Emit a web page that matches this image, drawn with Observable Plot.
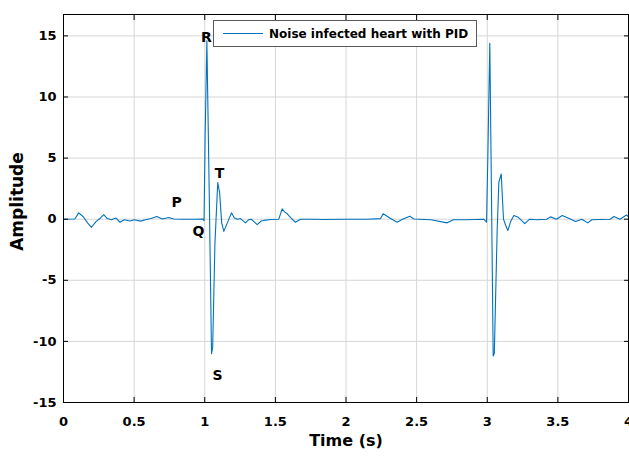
<!DOCTYPE html>
<html>
<head>
<meta charset="utf-8">
<script src="https://cdn.jsdelivr.net/npm/d3@7"></script>
<script src="https://cdn.jsdelivr.net/npm/@observablehq/plot@0.6"></script>
<style>
  body { margin: 0; background: #fff; }
  #wrap { position: relative; width: 629px; height: 457px; font-family: "DejaVu Sans", sans-serif; }
  #legend { position: absolute; left: 213px; top: 20px; width: 264px; height: 27px; box-sizing: border-box;
    border: 1px solid #5a5a5a; background: #fff; display: flex; align-items: center; }
  #legend .swatch { width: 40px; height: 0; border-top: 1px solid #0072BD; margin-left: 9px; margin-right: 6px; }
  #legend .txt { font-weight: bold; font-size: 12px; color: #000; white-space: nowrap; }
</style>
</head>
<body>
<div id="wrap"></div>
<script>
// Signal samples
const time = [0, 0.08, 0.108, 0.14, 0.17, 0.198, 0.23, 0.262, 0.285, 0.31, 0.34, 0.37, 0.40, 0.43, 0.47, 0.50, 0.545, 0.58, 0.62, 0.66, 0.70, 0.746, 0.78, 0.85, 0.93, 0.985, 0.995,
  1.003, 1.015, 1.032, 1.048, 1.056, 1.072, 1.092, 1.105, 1.12, 1.135, 1.16, 1.189, 1.21, 1.23, 1.253, 1.288, 1.31, 1.329, 1.371, 1.40, 1.418, 1.47, 1.524, 1.548, 1.565, 1.584, 1.61, 1.642, 1.678,
  1.75, 1.85, 2.0, 2.15, 2.245, 2.263, 2.31, 2.362, 2.40, 2.452, 2.48, 2.60, 2.716, 2.76, 2.85, 2.976, 2.995,
  3.004, 3.018, 3.03, 3.042, 3.05, 3.07, 3.082, 3.099, 3.115, 3.13, 3.146, 3.165, 3.188, 3.22, 3.266, 3.30, 3.35, 3.42, 3.448, 3.49, 3.531, 3.58, 3.625, 3.67, 3.712, 3.74, 3.80, 3.87, 3.896, 3.94, 3.986, 4.0];
const amplitude = [0, 0.02, 0.52, 0.2, -0.3, -0.66, -0.2, 0.1, 0.38, 0.05, -0.05, 0.1, -0.25, -0.05, -0.15, -0.05, -0.16, -0.05, 0.05, 0.22, 0.02, 0.14, 0.02, 0.0, 0.0, 0.02, -0.12,
  7.0, 14.6, 2.0, -11.0, -10.5, -2.0, 3.0, 2.2, -0.3, -1.0, -0.3, 0.52, 0.1, 0.0, 0.05, -0.3, -0.05, 0.0, -0.44, -0.15, -0.1, -0.02, 0.0, 0.85, 0.6, 0.44, 0.1, -0.25, 0.0,
  0.0, -0.02, 0.0, 0.0, 0.05, 0.44, 0.1, -0.25, 0.0, 0.25, 0.02, -0.05, -0.3, -0.05, -0.05, 0.0, -0.25,
  5.0, 14.4, 2.0, -11.2, -11.0, -1.0, 3.03, 3.7, 0.0, -0.5, -0.93, -0.2, 0.3, 0.15, -0.36, 0.0, -0.05, 0.0, 0.19, 0.0, 0.3, 0.05, -0.19, 0.0, -0.3, -0.05, -0.02, 0.0, 0.22, 0.0, 0.35, 0.2];

const xTicks = [0, 0.5, 1, 1.5, 2, 2.5, 3, 3.5, 4];
const yTicks = [-15, -10, -5, 0, 5, 10, 15];

// Wave annotations
const waveLabels = ["P", "Q", "R", "S", "T"];
const waveTime = [0.80, 0.956, 1.012, 1.09, 1.104];
const waveAmp = [1.39, -0.98, 14.84, -12.8, 3.77];

const seriesName = "Noise infected heart with PID";
const xLabel = "Time (s)";
const yLabel = "Amplitude";

const signal = time.map((t, i) => ({t, a: amplitude[i]}));
const notes = waveLabels.map((s, i) => ({s, t: waveTime[i], a: waveAmp[i]}));

const plot = Plot.plot({
  width: 629,
  height: 457,
  marginLeft: 63,
  marginRight: 1,
  marginTop: 14,
  marginBottom: 55,
  style: {fontFamily: "'DejaVu Sans', sans-serif", background: "#fff", overflow: "visible"},
  x: {domain: [0, 4], label: null},
  y: {domain: [-15, 16.75], label: null},
  marks: [
    Plot.gridX(xTicks, {stroke: "#d6d6d6", strokeOpacity: 1, strokeWidth: 1}),
    Plot.gridY(yTicks, {stroke: "#d6d6d6", strokeOpacity: 1, strokeWidth: 1}),
    Plot.line(signal, {x: "t", y: "a", stroke: "#0072BD", strokeWidth: 1.1}),
    Plot.text(notes, {x: "t", y: "a", text: "s", fontSize: 14, fontWeight: "bold", fill: "#000"}),
    Plot.frame({stroke: "#000", strokeWidth: 1}),
    Plot.axisX(xTicks, {anchor: "bottom", tickSize: -5, tickFormat: () => "", stroke: "#000"}),
    Plot.axisX(xTicks, {anchor: "top", tickSize: -5, tickFormat: () => "", stroke: "#000"}),
    Plot.axisY(yTicks, {anchor: "left", tickSize: -5, tickFormat: () => "", stroke: "#000"}),
    Plot.axisY(yTicks, {anchor: "right", tickSize: -5, tickFormat: () => "", stroke: "#000"}),
    Plot.axisX(xTicks, {anchor: "bottom", tickSize: 0, tickPadding: 14, tickFormat: d => String(d), fontSize: 13, fontWeight: "bold", fill: "#000"}),
    Plot.axisY(yTicks, {anchor: "left", tickSize: 0, tickPadding: 7, tickFormat: d => String(d), fontSize: 13, fontWeight: "bold", fill: "#000"}),
    Plot.text([xLabel], {frameAnchor: "bottom", textAnchor: "middle", dy: 43, text: d => d, fontSize: 16, fontWeight: "bold", fill: "#000"}),
    Plot.text([yLabel], {frameAnchor: "left", textAnchor: "middle", dx: -46, dy: -7, rotate: -90, text: d => d, fontSize: 17, fontWeight: "bold", fill: "#000"})
  ]
});

const wrap = document.getElementById("wrap");
wrap.appendChild(plot);
const legend = document.createElement("div");
legend.id = "legend";
legend.innerHTML = `<div class="swatch"></div><div class="txt"></div>`;
legend.querySelector(".txt").textContent = seriesName;
wrap.appendChild(legend);
</script>
</body>
</html>
